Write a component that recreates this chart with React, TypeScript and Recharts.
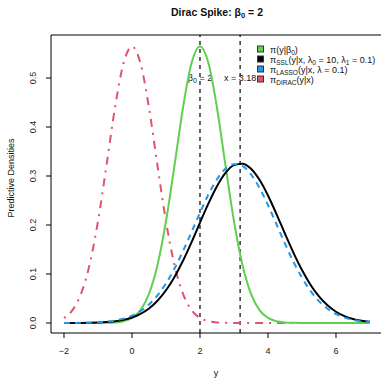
import { ComposedChart, Line, XAxis, YAxis, ReferenceLine } from 'recharts';

const xs = [-2, -1.75, -1.5, -1.25, -1, -0.75, -0.5, -0.25, 0, 0.25, 0.5, 0.75, 1, 1.25, 1.5, 1.75, 2, 2.25, 2.5, 2.75, 3, 3.25, 3.5, 3.75, 4, 4.25, 4.5, 4.75, 5, 5.25, 5.5, 5.75, 6, 6.25, 6.5, 6.75, 7];

const prior = [0, 0, 0, 0, 0, 0.0003, 0.0011, 0.0036, 0.0103, 0.0264, 0.0595, 0.1183, 0.2076, 0.3215, 0.4394, 0.53, 0.5642, 0.53, 0.4394, 0.3215, 0.2076, 0.1183, 0.0595, 0.0264, 0.0103, 0.0036, 0.0011, 0.0003, 0, 0, 0, 0, 0, 0, 0, 0, 0];
const ssl = [0, 0.0001, 0.0002, 0.0005, 0.001, 0.0019, 0.0036, 0.0064, 0.0112, 0.0186, 0.0297, 0.0455, 0.0668, 0.0941, 0.1271, 0.1647, 0.2048, 0.2441, 0.2792, 0.3062, 0.3222, 0.3252, 0.3148, 0.2923, 0.2603, 0.2224, 0.1822, 0.1432, 0.108, 0.0781, 0.0542, 0.036, 0.023, 0.0141, 0.0083, 0.0047, 0.0025];
const lasso = [0.0001, 0.0002, 0.0003, 0.0007, 0.0014, 0.0027, 0.005, 0.0089, 0.015, 0.0243, 0.0378, 0.0565, 0.0809, 0.1112, 0.1466, 0.1855, 0.2253, 0.2625, 0.2934, 0.3148, 0.324, 0.3201, 0.3033, 0.2758, 0.2407, 0.2015, 0.1619, 0.1248, 0.0923, 0.0655, 0.0446, 0.0292, 0.0183, 0.011, 0.0063, 0.0035, 0.0019];
const dirac = [0.0103, 0.0264, 0.0595, 0.1183, 0.2076, 0.3215, 0.4394, 0.53, 0.5642, 0.53, 0.4394, 0.3215, 0.2076, 0.1183, 0.0595, 0.0264, 0.0103, 0.0036, 0.0011, 0.0003, 0, 0, 0, 0, 0, 0, 0, 0, 0, 0, 0, 0, 0, 0, 0, 0, 0];

const xTicks = [-2, 0, 2, 4, 6];
const yTicks = [0, 0.1, 0.2, 0.3, 0.4, 0.5];
const beta0 = 2;
const xObs = 3.18;

const data = xs.map((x, i) => ({ x, prior: prior[i], ssl: ssl[i], lasso: lasso[i], dirac: dirac[i] }));

const FONT = '"Liberation Sans", Arial, Helvetica, sans-serif';
const GREEN = '#61D04F';
const BLUE = '#2297E6';
const PINK = '#DF536B';

const XTick = (props: any) => {
  const { x, y, payload } = props;
  return (
    <text x={x} y={y + 14} textAnchor="middle" fontSize={9} fill="#222" fontFamily={FONT}>
      {payload.value < 0 ? '\u2212' + Math.abs(payload.value) : payload.value}
    </text>
  );
};

const YTick = (props: any) => {
  const { x, y, payload } = props;
  return (
    <text x={x - 8} y={y} textAnchor="middle" fontSize={9} fill="#222" fontFamily={FONT}
      transform={`rotate(-90 ${x - 8} ${y})`}>
      {payload.value.toFixed(1)}
    </text>
  );
};

const refLabel = (kind: 'beta' | 'x') => (props: any) => {
  const vb = props.viewBox;
  const cx = vb.x;
  const cy = vb.y + 46;
  return (
    <text x={cx} y={cy} textAnchor="middle" fontSize={9} fill="#111" fontFamily={FONT}>
      {kind === 'beta' ? (
        <>
          β<tspan fontSize={7} dy={2}>0</tspan><tspan dy={-2}> = 2</tspan>
        </>
      ) : (
        'x = 3.18'
      )}
    </text>
  );
};

const legendItems = [
  { color: GREEN, main: 'π', sub: '', rest: '(y|β', sub2: '0', rest2: ')' },
  { color: '#000000', main: 'π', sub: 'SSL', rest: '(y|x, λ', sub2: '0', rest2: ' = 10, λ', sub3: '1', rest3: ' = 0.1)' },
  { color: BLUE, main: 'π', sub: 'LASSO', rest: '(y|x, λ = 0.1)', sub2: '', rest2: '' },
  { color: PINK, main: 'π', sub: 'DIRAC', rest: '(y|x)', sub2: '', rest2: '' },
];

const Overlay = () => (
  <svg width={381} height={380} style={{ position: 'absolute', left: 0, top: 0, pointerEvents: 'none' }}>
    <text x={217} y={16} textAnchor="middle" fontSize={10.5} fontWeight="bold" fill="#111" fontFamily={FONT}>
      Dirac Spike: β<tspan fontSize={7.5} dy={2}>0</tspan><tspan dy={-2}> = 2</tspan>
    </text>
    <text x={14} y={178} textAnchor="middle" fontSize={9} fill="#111" fontFamily={FONT} transform="rotate(-90 14 178)">
      Predictive Densities
    </text>
    <g transform="translate(256 44)">
      {legendItems.map((it: any, i) => (
        <g key={i} transform={`translate(0 ${i * 10})`}>
          <rect x={1.5} y={2} width={6} height={6} fill={it.color} stroke="#333" strokeWidth={1} />
          <text x={14} y={8.5} fontSize={9} fill="#111" fontFamily={FONT}>
            {it.main}
            {it.sub && <tspan fontSize={6.5} dy={2}>{it.sub}</tspan>}
            <tspan dy={it.sub ? -2 : 0}>{it.rest}</tspan>
            {it.sub2 && <tspan fontSize={6.5} dy={2}>{it.sub2}</tspan>}
            {it.sub2 && <tspan dy={-2}>{it.rest2}</tspan>}
            {it.sub3 && <tspan fontSize={6.5} dy={2}>{it.sub3}</tspan>}
            {it.sub3 && <tspan dy={-2}>{it.rest3}</tspan>}
          </text>
        </g>
      ))}
    </g>
  </svg>
);

export default function App() {
  return (
    <div style={{ position: 'absolute', left: 0, top: 0, width: 381, height: 380, background: '#fff', overflow: 'hidden' }}>
      <ComposedChart width={381} height={380} data={data} margin={{ top: 35, right: 0, bottom: 0, left: 0 }}>
        <XAxis
          dataKey="x"
          type="number"
          domain={[-2.382, 7.324]}
          ticks={xTicks}
          allowDataOverflow
          height={47}
          tickSize={5}
          stroke="#000"
          tick={<XTick />}
          label={{ value: 'y', position: 'insideBottom', offset: 4, fontSize: 9, fill: '#111', fontFamily: FONT }}
        />
        <YAxis
          type="number"
          domain={[-0.0204, 0.5878]}
          ticks={yTicks}
          allowDataOverflow
          width={51}
          tickSize={5}
          stroke="#000"
          tick={<YTick />}
        />
        <ReferenceLine y={0.5878} stroke="#000" strokeWidth={1} />
        <ReferenceLine x={beta0} stroke="#000" strokeWidth={1.2} strokeDasharray="4 4" label={refLabel('beta')} />
        <ReferenceLine x={xObs} stroke="#000" strokeWidth={1.2} strokeDasharray="4 4" label={refLabel('x')} />
        <Line type="monotone" dataKey="dirac" stroke={PINK} strokeWidth={2} strokeDasharray="2 6 8 6" dot={false} isAnimationActive={false} />
        <Line type="monotone" dataKey="prior" stroke={GREEN} strokeWidth={2} dot={false} isAnimationActive={false} />
        <Line type="monotone" dataKey="ssl" stroke="#000" strokeWidth={2} dot={false} isAnimationActive={false} />
        <Line type="monotone" dataKey="lasso" stroke={BLUE} strokeWidth={2} strokeDasharray="6 5" dot={false} isAnimationActive={false} />
      </ComposedChart>
      <Overlay />
    </div>
  );
}
